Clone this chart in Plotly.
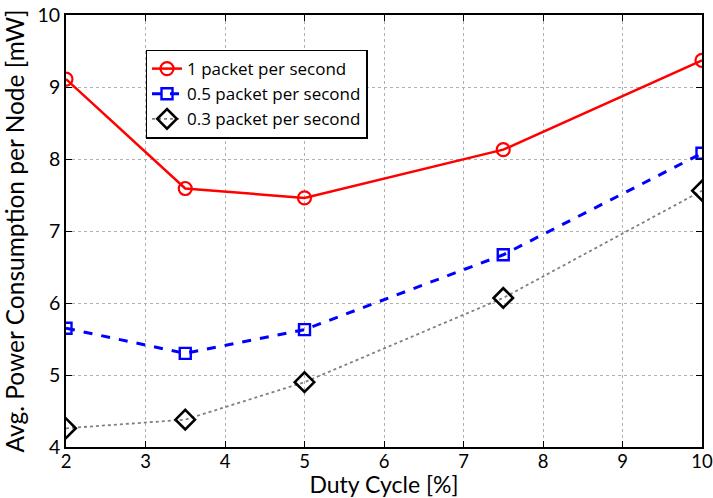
import plotly.graph_objects as go

# Duty cycle settings (%) and average power per node (mW)
duty_cycle = [2, 3.5, 5, 7.5, 10]
power_1pps = [9.11, 7.59, 7.46, 8.13, 9.37]
power_05pps = [5.65, 5.30, 5.63, 6.67, 8.08]
power_03pps = [4.26, 4.38, 4.90, 6.07, 7.56]

x_ticks = [2, 3, 4, 5, 6, 7, 8, 9, 10]
y_ticks = [4, 5, 6, 7, 8, 9, 10]

FONT = "Lato"
LEGEND_FONT = "Open Sans"

fig = go.Figure()
fig.add_trace(go.Scatter(
    x=duty_cycle, y=power_1pps, name="1 packet per second",
    mode="lines+markers",
    line=dict(color="#ff0000", width=2.5, dash="solid"),
    marker=dict(symbol="circle-open", size=13, color="#ff0000",
                line=dict(width=2.2, color="#ff0000")),
))
fig.add_trace(go.Scatter(
    x=duty_cycle, y=power_05pps, name="0.5 packet per second",
    mode="lines+markers",
    line=dict(color="#0000ff", width=3, dash="dash"),
    marker=dict(symbol="square-open", size=11, color="#0000ff",
                line=dict(width=2.4, color="#0000ff")),
))
fig.add_trace(go.Scatter(
    x=duty_cycle, y=power_03pps, name="0.3 packet per second",
    mode="lines+markers",
    line=dict(color="#808080", width=1.8, dash="dot"),
    marker=dict(symbol="diamond-open", size=15, color="#000000",
                line=dict(width=2.6, color="#000000")),
))

axis_common = dict(
    showline=True, linecolor="black", linewidth=1.8, mirror="ticks",
    ticks="inside", ticklen=6, tickwidth=1.2, tickcolor="black",
    showgrid=True, gridcolor="#b0b0b0", griddash="dot", gridwidth=1,
    zeroline=False, automargin=False, ticklabeloverflow="allow",
)

fig.update_layout(
    width=713, height=498,
    margin=dict(l=66, r=11, t=15, b=51),
    paper_bgcolor="white", plot_bgcolor="white",
    font=dict(family=FONT, color="black"),
    showlegend=True,
    legend=dict(
        x=0.125, y=0.92, xanchor="left", yanchor="top",
        bgcolor="white", bordercolor="black", borderwidth=1.5,
        font=dict(family=LEGEND_FONT, size=17, color="black"),
        tracegroupgap=0, itemwidth=30,
    ),
    xaxis=dict(
        range=[2, 10], tickvals=x_ticks,
        tickfont=dict(family=FONT, size=18.5, color="black"),
        ticklabelstandoff=-3,
        title=dict(text="Duty Cycle [%]", font=dict(family=FONT, size=23), standoff=5),
        **axis_common,
    ),
    yaxis=dict(
        range=[4, 10], tickvals=y_ticks,
        tickfont=dict(family=FONT, size=19.5, color="black"),
        title=dict(text="Avg. Power Consumption per Node [mW]",
                   font=dict(family=FONT, size=24.5), standoff=6),
        **axis_common,
    ),
)

fig.write_html("out.html")
